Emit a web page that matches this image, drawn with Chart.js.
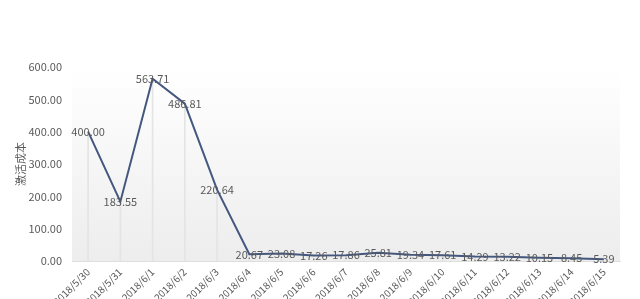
<!DOCTYPE html>
<html>
<head>
<meta charset="utf-8">
<script src="https://cdn.jsdelivr.net/npm/chart.js@4/dist/chart.umd.min.js"></script>
<style>
    html, body { margin: 0; padding: 0; background: #fff; }
    #wrap { width: 640px; height: 299px; }
</style>
</head>
<body>
<div id="wrap"><canvas id="cost-chart"></canvas></div>
<script>
var dates = ['2018/5/30', '2018/5/31', '2018/6/1', '2018/6/2', '2018/6/3', '2018/6/4', '2018/6/5', '2018/6/6',
    '2018/6/7', '2018/6/8', '2018/6/9', '2018/6/10', '2018/6/11', '2018/6/12', '2018/6/13', '2018/6/14', '2018/6/15'];
var costs = [400.00, 183.55, 563.71, 486.81, 220.64, 20.67, 23.08, 17.26, 17.86, 25.81, 19.34, 17.61, 14.29, 13.22, 10.15, 8.45, 5.39];
var yTicks = [0, 100, 200, 300, 400, 500, 600];

var textColor = '#5a5a5a';
var fontFamily = '"Microsoft YaHei", "Noto Sans CJK SC", "DejaVu Sans", sans-serif';

// light grey fade behind the plot
var areaBackground = {
    id: 'areaBackground',
    beforeDraw: function (chart) {
        var a = chart.chartArea;
        var ctx = chart.ctx;
        var g = ctx.createLinearGradient(0, a.top, 0, a.bottom);
        g.addColorStop(0, '#ffffff');
        g.addColorStop(1, '#ededed');
        ctx.save();
        ctx.fillStyle = g;
        ctx.fillRect(a.left, a.top, a.right - a.left, a.bottom - a.top);
        ctx.restore();
    }
};

var pointLabels = {
    id: 'pointLabels',
    afterDatasetsDraw: function (chart) {
        var meta = chart.getDatasetMeta(1);
        var ctx = chart.ctx;
        ctx.save();
        ctx.font = '11px ' + fontFamily;
        ctx.fillStyle = textColor;
        ctx.textAlign = 'center';
        ctx.textBaseline = 'middle';
        meta.data.forEach(function (pt, i) {
            ctx.fillText(costs[i].toFixed(2), pt.x, pt.y);
        });
        ctx.restore();
    }
};

new Chart(document.getElementById('cost-chart'), {
    data: {
        labels: dates,
        datasets: [
            {
                type: 'bar',
                data: costs,
                backgroundColor: '#e4e4e4',
                barThickness: 1,
                order: 2
            },
            {
                type: 'line',
                data: costs,
                borderColor: '#44577e',
                borderWidth: 2,
                pointRadius: 0,
                tension: 0,
                order: 1
            }
        ]
    },
    options: {
        responsive: true,
        maintainAspectRatio: false,
        animation: false,
        layout: { padding: { top: 67, right: 20, left: 14, bottom: 0 } },
        plugins: {
            legend: { display: false },
            tooltip: { enabled: false }
        },
        scales: {
            x: {
                grid: { display: false, drawTicks: false },
                border: { display: true, color: '#dedede' },
                ticks: {
                    color: textColor,
                    font: { size: 10, family: fontFamily },
                    minRotation: 45,
                    maxRotation: 45,
                    autoSkip: false,
                    padding: 5
                },
                afterFit: function (scale) { scale.height = 38; }
            },
            y: {
                min: 0,
                max: 600,
                afterBuildTicks: function (scale) {
                    scale.ticks = yTicks.map(function (v) { return { value: v }; });
                },
                grid: { display: false, drawTicks: false },
                border: { display: false },
                title: {
                    display: true,
                    text: '激活成本',
                    color: textColor,
                    font: { size: 11, family: fontFamily },
                    padding: 0
                },
                ticks: {
                    color: textColor,
                    font: { size: 11, family: fontFamily },
                    padding: 10,
                    callback: function (v) { return Number(v).toFixed(2); }
                },
                afterFit: function (scale) { scale.width = 58; }
            }
        }
    },
    plugins: [areaBackground, pointLabels]
});
</script>
</body>
</html>
